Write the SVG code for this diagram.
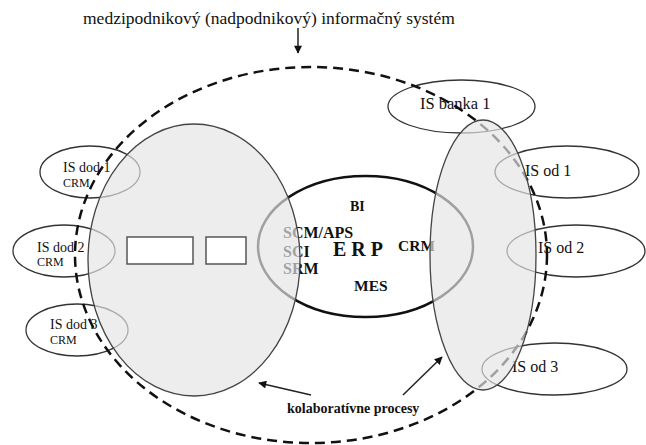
<svg xmlns="http://www.w3.org/2000/svg" width="646" height="445" viewBox="0 0 646 445">
<defs>
<style>
.t{font-family:"Liberation Serif","Times New Roman",serif;fill:#111}
.b{font-weight:bold}
.sm{fill:none;stroke:#333;stroke-width:1.3}
.gr{fill:#e4e4e4;fill-opacity:0.68;stroke:#444;stroke-width:1.3}
.rc{fill:#fff;stroke:#555;stroke-width:1.5}
.ar{stroke:#222;stroke-width:1.5;fill:none}
</style>
<marker id="ah" viewBox="0 0 10 10" refX="9" refY="5" markerWidth="9" markerHeight="8" markerUnits="userSpaceOnUse" orient="auto">
<path d="M0,0 L10,5 L0,10 z" fill="#111"/>
</marker>
</defs>
<rect width="646" height="445" fill="#fff"/>
<g id="title"><text class="t" x="83" y="24" font-size="17.5">medzipodnikový (nadpodnikový) informačný systém</text></g>

<g id="is-dod-1"><ellipse class="sm" cx="90" cy="172" rx="50" ry="26"/><text class="t" x="63" y="172" font-size="14">IS dod 1</text><text class="t" x="63" y="187" font-size="12">CRM</text></g>
<g id="is-dod-2"><ellipse class="sm" cx="64" cy="251" rx="51" ry="26"/><text class="t" x="37" y="252" font-size="14">IS dod 2</text><text class="t" x="37" y="266" font-size="12">CRM</text></g>
<g id="is-dod-3"><ellipse class="sm" cx="77" cy="330" rx="51" ry="26"/><text class="t" x="50" y="329" font-size="14">IS dod 3</text><text class="t" x="50" y="344" font-size="12">CRM</text></g>

<g id="is-banka-1"><ellipse class="sm" cx="461.5" cy="106.5" rx="73.5" ry="26.5"/><text class="t" x="420" y="109" font-size="16.5">IS banka 1</text></g>
<g id="is-od-1"><ellipse class="sm" cx="567" cy="172" rx="72" ry="26"/><text class="t" x="525" y="176" font-size="16">IS od 1</text></g>
<g id="is-od-2"><ellipse class="sm" cx="576" cy="251" rx="69" ry="26"/><text class="t" x="538" y="253" font-size="16">IS od 2</text></g>
<g id="is-od-3"><ellipse class="sm" cx="554.5" cy="369" rx="72.5" ry="26"/><text class="t" x="512" y="372" font-size="16">IS od 3</text></g>

<g id="system"><ellipse cx="311" cy="255" rx="236" ry="188" fill="none" stroke="#111" stroke-width="2.5" stroke-dasharray="10 6"/></g>

<g id="erp">
<ellipse cx="365.5" cy="246.5" rx="107.5" ry="70.5" fill="none" stroke="#111" stroke-width="2.5"/>
<text class="t b" x="350" y="211" font-size="14">BI</text>
<text class="t b" x="283" y="238" font-size="16">SCM/APS</text>
<text class="t b" x="283" y="257" font-size="16">SCI</text>
<text class="t b" x="283" y="274" font-size="16">SRM</text>
<text class="t b" x="333" y="256" font-size="20">E R P</text>
<text class="t b" x="398" y="251" font-size="15.5">CRM</text>
<text class="t b" x="354" y="291" font-size="15.5">MES</text>
</g>

<g id="suppliers">
<ellipse class="gr" cx="194" cy="260" rx="106" ry="136"/>
<rect class="rc" x="127" y="237" width="66" height="27"/>
<rect class="rc" x="206" y="237" width="40" height="27"/>
</g>
<g id="customers"><ellipse class="gr" cx="483" cy="255" rx="53" ry="135"/></g>

<g id="label"><text class="t b" x="287" y="413" font-size="14">kolaboratívne procesy</text></g>

<g id="connectors">
<line class="ar" x1="298" y1="28" x2="298" y2="53" marker-end="url(#ah)"/>
<line class="ar" x1="311" y1="395" x2="259" y2="383" marker-end="url(#ah)"/>
<line class="ar" x1="403" y1="395" x2="442" y2="357" marker-end="url(#ah)"/>
</g>
</svg>
